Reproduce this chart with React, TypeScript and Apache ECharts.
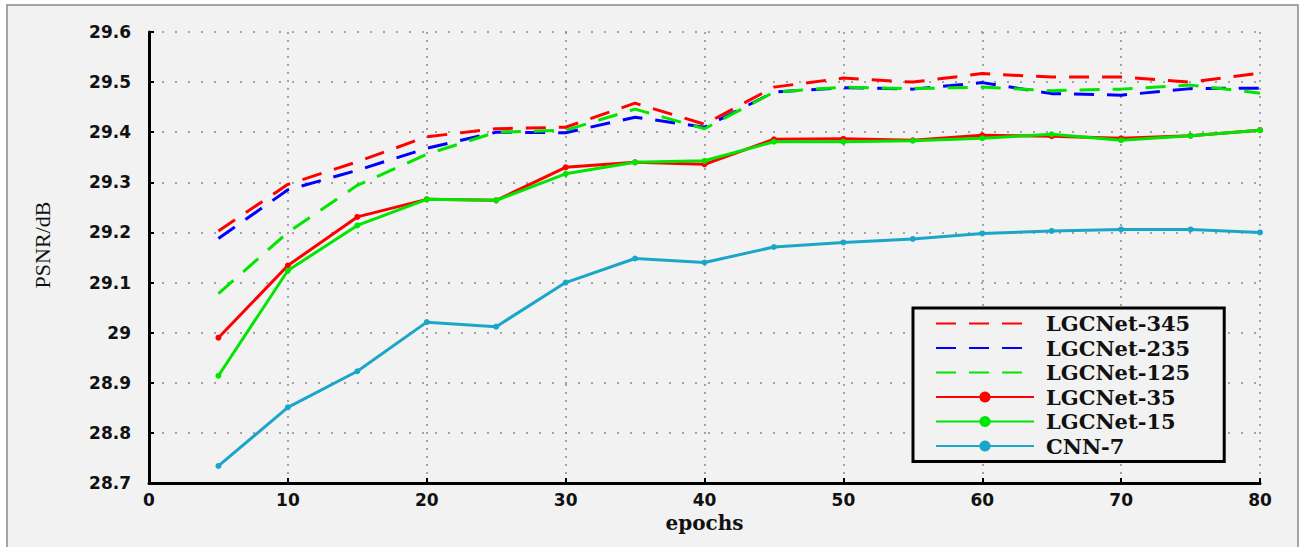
import React, { useEffect, useRef } from "react";
import * as echarts from "echarts";

const epochs = [5, 10, 15, 20, 25, 30, 35, 40, 45, 50, 55, 60, 65, 70, 75, 80];
const lgc345 = [29.203, 29.296, 29.341, 29.391, 29.407, 29.41, 29.458, 29.416, 29.49, 29.508, 29.5, 29.517, 29.51, 29.51, 29.5, 29.518];
const lgc235 = [29.188, 29.285, 29.324, 29.368, 29.4, 29.399, 29.43, 29.41, 29.48, 29.489, 29.486, 29.499, 29.477, 29.474, 29.487, 29.488];
const lgc125 = [29.078, 29.2, 29.294, 29.356, 29.4, 29.404, 29.446, 29.407, 29.48, 29.49, 29.487, 29.49, 29.483, 29.486, 29.494, 29.478];
const lgc35 = [28.99, 29.134, 29.231, 29.266, 29.264, 29.33, 29.34, 29.336, 29.386, 29.387, 29.384, 29.394, 29.392, 29.388, 29.393, 29.404];
const lgc15 = [28.914, 29.124, 29.214, 29.266, 29.264, 29.317, 29.34, 29.343, 29.381, 29.381, 29.383, 29.388, 29.396, 29.384, 29.393, 29.404];
const cnn7 = [28.734, 28.851, 28.923, 29.021, 29.012, 29.1, 29.148, 29.14, 29.171, 29.18, 29.187, 29.198, 29.203, 29.206, 29.206, 29.2];

const seriesNames = ["LGCNet-345", "LGCNet-235", "LGCNet-125", "LGCNet-35", "LGCNet-15", "CNN-7"];
const seriesColors = ["#ff0000", "#0000ff", "#00e600", "#ff0000", "#00e600", "#1ba6c9"];
const seriesDashed = [true, true, true, false, false, false];
const seriesValues = [lgc345, lgc235, lgc125, lgc35, lgc15, cnn7];

const xTicks = [0, 10, 20, 30, 40, 50, 60, 70, 80];
const yMin = 28.7;
const yMax = 29.6;
const yTitle = "PSNR/dB";
const xTitle = "epochs";

export default function App() {
  const ref = useRef<HTMLDivElement>(null);
  useEffect(() => {
    if (!ref.current) return;
    const chart = echarts.init(ref.current, null, { renderer: "svg" });
    const series = seriesNames.map((name, i) => ({
      name,
      type: "line",
      data: epochs.map((e, j) => [e, seriesValues[i][j]]),
      showSymbol: !seriesDashed[i],
      symbol: seriesDashed[i] ? "none" : "circle",
      symbolSize: 6,
      itemStyle: { color: seriesColors[i] },
      lineStyle: {
        color: seriesColors[i],
        width: 3,
        type: seriesDashed[i] ? [20, 13] : "solid",
      },
      z: 3 + i,
    }));
    chart.setOption({
      animation: false,
      backgroundColor: "#ffffff",
      graphic: [
        {
          type: "rect",
          shape: { x: 7, y: 5, width: 1291, height: 560 },
          style: { fill: "#f2f2f2", stroke: "#8a8a8a", lineWidth: 1.5 },
          z: -10,
          silent: true,
        },
        {
          type: "text",
          x: 42,
          y: 245,
          rotation: Math.PI / 2,
          style: {
            text: yTitle,
            fontFamily: "Liberation Serif",
            fontSize: 22,
            fill: "#111",
            align: "center",
            verticalAlign: "middle",
          },
          z: 10,
        },
      ],
      grid: { left: 149, right: 41, top: 32, bottom: 64, containLabel: false },
      xAxis: {
        type: "value",
        min: 0,
        max: 80,
        interval: 10,
        name: xTitle,
        nameLocation: "middle",
        nameGap: 29,
        nameTextStyle: { fontFamily: "DejaVu Serif", fontWeight: "bold", fontSize: 20, color: "#111" },
        axisLine: { show: true, lineStyle: { color: "#000", width: 3 } },
        axisTick: { show: true, inside: true, length: 5, lineStyle: { color: "#000", width: 2 } },
        axisLabel: {
          fontFamily: "DejaVu Sans",
          fontWeight: "bold",
          fontSize: 17,
          color: "#111",
          margin: 8,
          formatter: (v: number) => (xTicks.includes(v) ? String(v) : ""),
        },
        splitLine: { show: true, lineStyle: { color: "#8a8a8a", width: 1.5, type: [2, 6] } },
      },
      yAxis: {
        type: "value",
        min: yMin,
        max: yMax,
        interval: 0.1,
        axisLine: { show: true, lineStyle: { color: "#000", width: 3 } },
        axisTick: { show: true, inside: true, length: 5, lineStyle: { color: "#000", width: 2 } },
        axisLabel: {
          fontFamily: "DejaVu Sans",
          fontWeight: "bold",
          fontSize: 17,
          color: "#111",
          margin: 18,
          formatter: (v: number) => String(+v.toFixed(1)),
        },
        splitLine: { show: true, lineStyle: { color: "#8a8a8a", width: 1.5, type: [2, 11] } },
      },
      legend: {
        orient: "vertical",
        left: 913,
        top: 308,
        data: seriesNames.map((name, i) =>
          seriesDashed[i] ? { name, itemStyle: { opacity: 0 } } : { name }
        ),
        itemWidth: 98,
        itemHeight: 14,
        itemGap: 3.5,
        padding: [5, 34, 5, 22],
        backgroundColor: "#f2f2f2",
        borderColor: "#000",
        borderWidth: 3,
        textStyle: {
          fontFamily: "DejaVu Serif",
          fontWeight: "bold",
          fontSize: 21,
          color: "#111",
          padding: [0, 0, 0, 7],
        },
      },
      series,
    });
    return () => chart.dispose();
  }, []);
  return (
    <div
      ref={ref}
      style={{ position: "fixed", left: 0, top: 0, width: 1301, height: 547 }}
    />
  );
}
